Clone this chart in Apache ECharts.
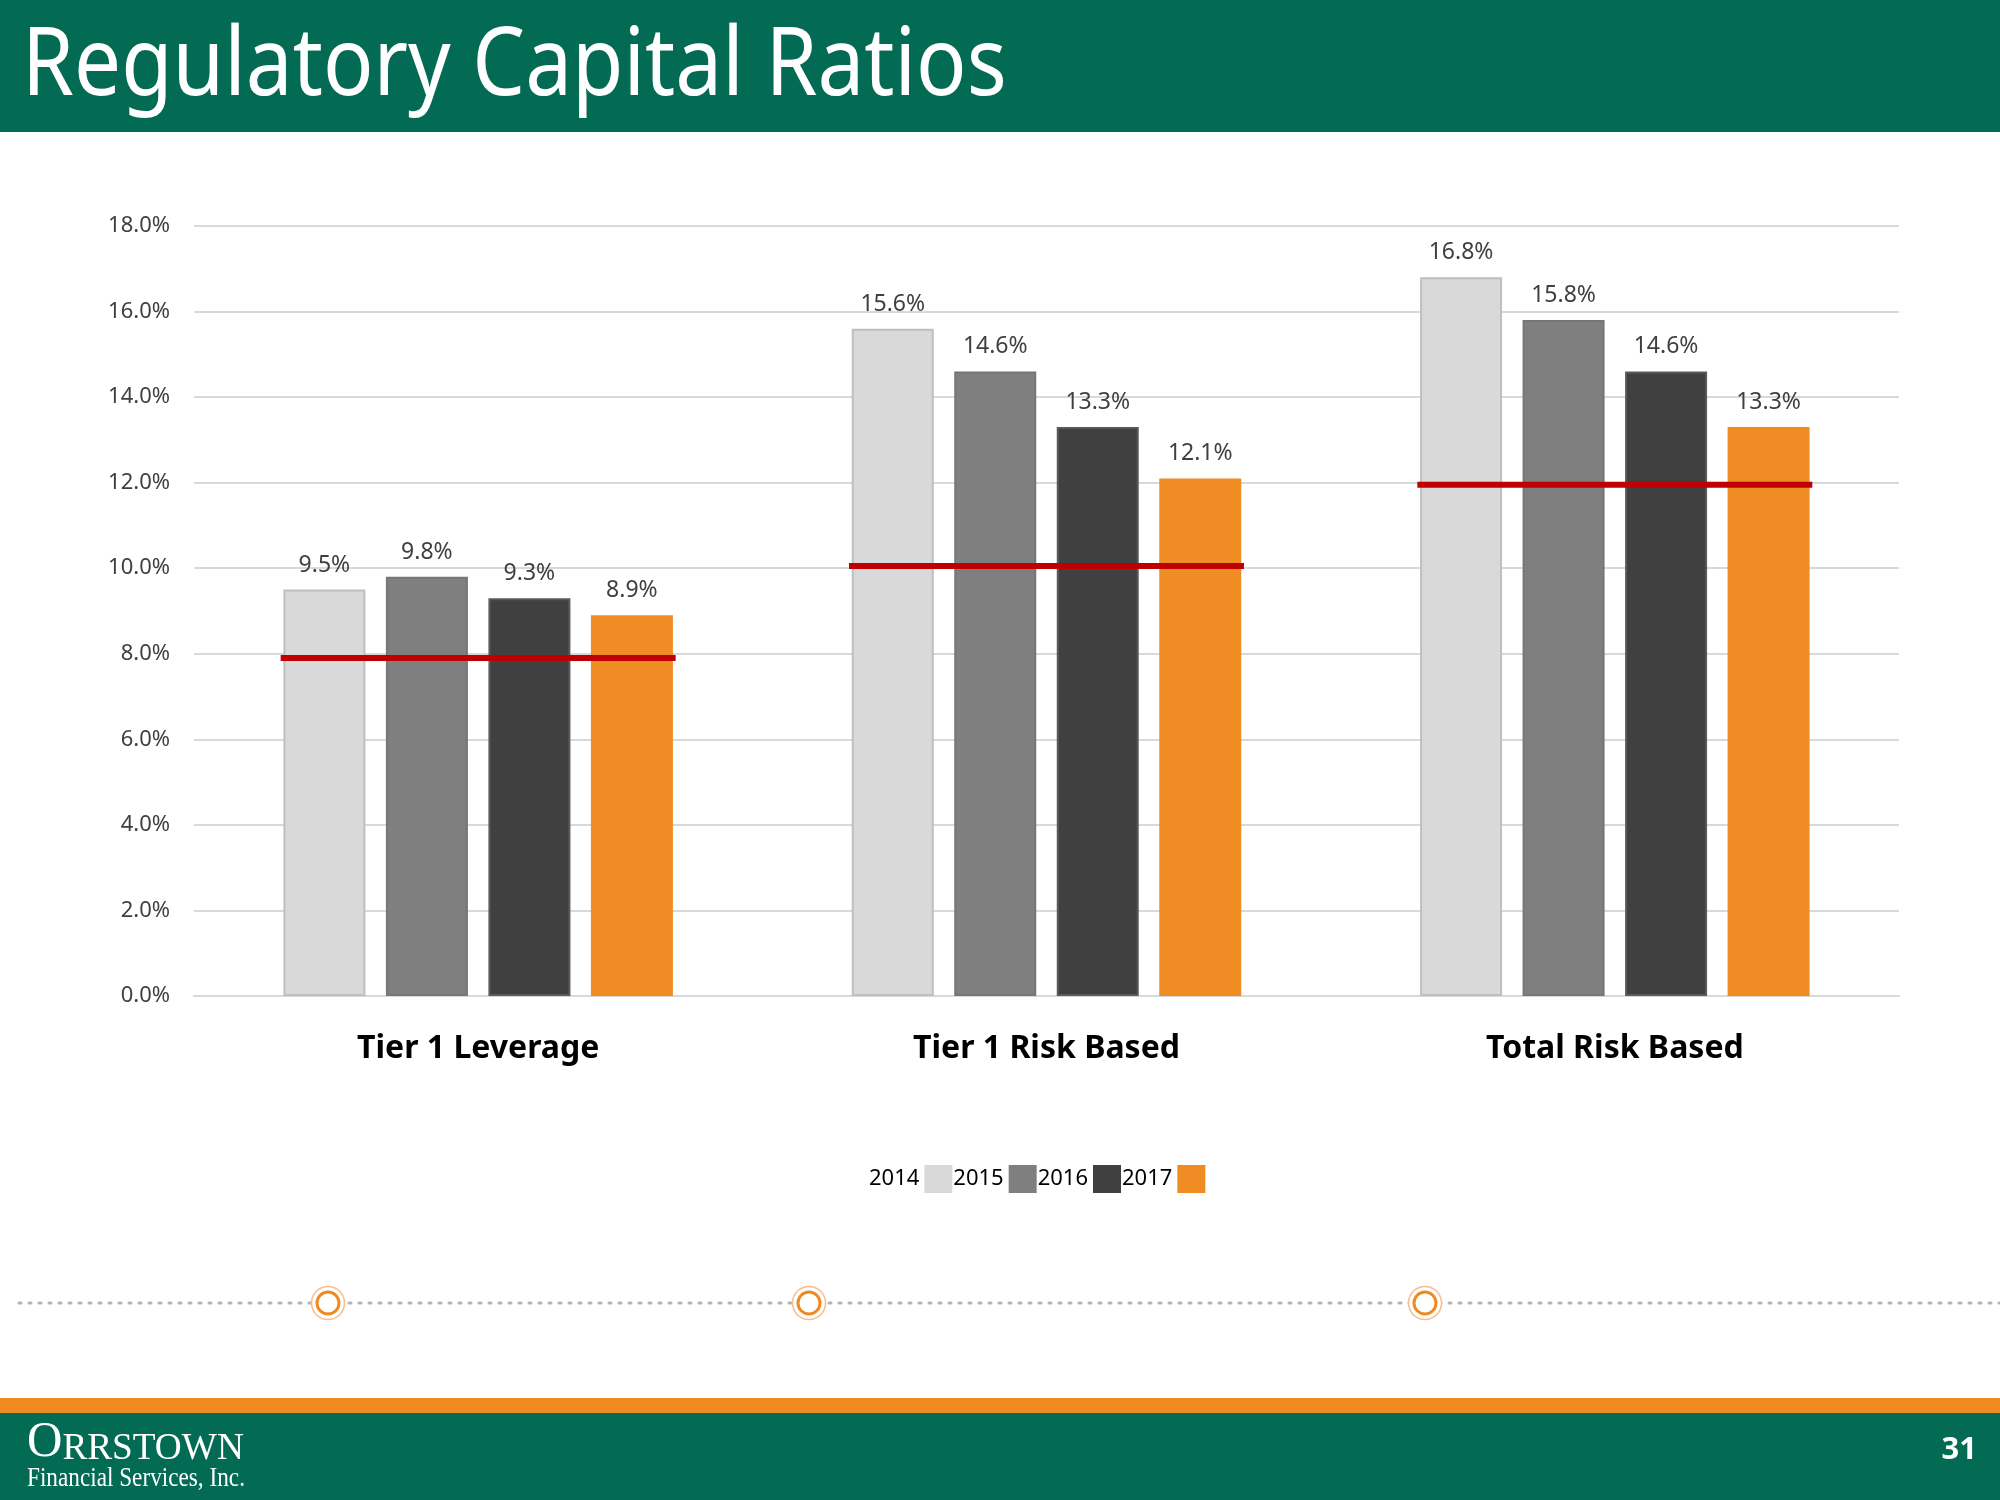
<!DOCTYPE html>
<html>
<head>
<meta charset="utf-8">
<script src="https://cdn.jsdelivr.net/npm/echarts@6/dist/echarts.min.js"></script>
<style>
  html, body { margin: 0; padding: 0; background: #ffffff; }
  #chart { width: 2000px; height: 1500px; }
</style>
</head>
<body>
<div id="chart"></div>
<script>
// ---- data ----
const categories = ['Tier 1 Leverage', 'Tier 1 Risk Based', 'Total Risk Based'];
const years = ['2014', '2015', '2016', '2017'];
const values2014 = [9.5, 15.6, 16.8];
const values2015 = [9.8, 14.6, 15.8];
const values2016 = [9.3, 13.3, 14.6];
const values2017 = [8.9, 12.1, 13.3];
const thresholdValues = [7.9, 10.05, 11.95];
const yTicks = { min: 0, max: 18, step: 2 };
const titleText = 'Regulatory Capital Ratios';
const pageNumber = '31';

// ---- styles ----
const FONT = "'Noto Sans', 'Open Sans', sans-serif";
const SERIF = "'Liberation Serif', 'DejaVu Serif', serif";
const GREEN = '#036B54';
const ORANGE = '#EF8A22';
const barColors = ['#D9D9D9', '#7F7F7F', '#404040', '#F08C24'];
const barBorders = ['#BFBFBF', '#767676', '#5A5A5A', '#F08C24'];
const seriesValues = [values2014, values2015, values2016, values2017];
const LINE_SPAN = 0.695; // fraction of category band covered by red line

const chart = echarts.init(document.getElementById('chart'), null, { renderer: 'canvas' });

const barSeries = years.map((y, i) => ({
  name: y,
  type: 'bar',
  data: seriesValues[i],
  barWidth: 82,
  barGap: '25%',
  itemStyle: { color: barColors[i], borderColor: barBorders[i], borderWidth: i === 3 ? 0 : 2 },
  label: {
    show: true,
    position: 'top',
    distance: 13,
    fontFamily: FONT,
    fontSize: 23,
    color: '#404040',
    formatter: p => p.value.toFixed(1) + '%'
  },
  z: 2
}));

const lineSeries = {
  name: 'threshold',
  type: 'custom',
  data: thresholdValues.map((v, i) => [i, v]),
  encode: { x: 0, y: 1 },
  z: 5,
  renderItem: function (params, api) {
    const c = api.coord([api.value(0), api.value(1)]);
    const band = api.size([1, 0])[0];
    const half = band * LINE_SPAN / 2;
    return {
      type: 'line',
      shape: { x1: c[0] - half, y1: c[1], x2: c[0] + half, y2: c[1] },
      style: { stroke: '#C00000', lineWidth: 6 }
    };
  }
};

const ringXs = [328, 809, 1425];
const ringEls = [];
ringXs.forEach(x => {
  ringEls.push({ type: 'circle', shape: { cx: x, cy: 1303, r: 16.5 }, style: { fill: '#ffffff', stroke: '#F6BE90', lineWidth: 1.5 }, z: 10 });
  ringEls.push({ type: 'circle', shape: { cx: x, cy: 1303, r: 11 }, style: { fill: '#ffffff', stroke: ORANGE, lineWidth: 3 }, z: 11 });
});

const option = {
  backgroundColor: '#ffffff',
  animation: false,
  grid: { left: 194, right: 101, top: 226, bottom: 504, containLabel: false },
  legend: {
    data: years,
    left: 864,
    top: 1160,
    align: 'right',
    icon: 'rect',
    itemWidth: 28,
    itemHeight: 28,
    itemGap: 1,
    itemStyle: { borderWidth: 0 },
    textStyle: { fontFamily: FONT, fontSize: 22, color: '#000000' }
  },
  xAxis: {
    type: 'category',
    data: categories,
    axisLine: { show: true, lineStyle: { color: '#D9D9D9', width: 2 } },
    axisTick: { show: false },
    axisLabel: { fontFamily: FONT, fontSize: 32, fontWeight: 'bold', color: '#000000', margin: 37 }
  },
  yAxis: {
    type: 'value',
    min: yTicks.min,
    max: yTicks.max,
    interval: yTicks.step,
    axisLine: { show: false },
    axisTick: { show: false },
    axisLabel: { fontFamily: FONT, fontSize: 22, color: '#404040', margin: 24, formatter: v => v.toFixed(1) + '%' },
    splitLine: { lineStyle: { color: '#D9D9D9', width: 2 } }
  },
  series: barSeries.concat([lineSeries]),
  graphic: [
    { type: 'rect', shape: { x: 0, y: 0, width: 2000, height: 132 }, style: { fill: GREEN }, z: 1 },
    { type: 'text', x: 22, y: 68, scaleX: 0.88,
      style: { text: titleText, fill: '#ffffff', font: "normal 95px 'Noto Sans', 'Open Sans', sans-serif", verticalAlign: 'middle', align: 'left' }, z: 2 },
    { type: 'line', shape: { x1: 19, y1: 1303, x2: 2000, y2: 1303 }, style: { stroke: '#B3B3B3', lineWidth: 3, lineDash: [2, 8], lineCap: 'round' }, z: 5 }
  ].concat(ringEls).concat([
    { type: 'rect', shape: { x: 0, y: 1398, width: 2000, height: 15 }, style: { fill: ORANGE }, z: 1 },
    { type: 'rect', shape: { x: 0, y: 1413, width: 2000, height: 87 }, style: { fill: GREEN }, z: 1 },
    { type: 'text', x: 27, y: 1468, scaleX: 0.98,
      style: {
        text: '{big|O}{small|RRSTOWN}',
        verticalAlign: 'bottom', align: 'left',
        rich: {
          big: { fontFamily: SERIF, fontSize: 50, fill: '#ffffff', verticalAlign: 'bottom' },
          small: { fontFamily: SERIF, fontSize: 38, fill: '#ffffff', verticalAlign: 'bottom' }
        }
      }, z: 2 },
    { type: 'text', x: 27, y: 1479, scaleX: 0.86,
      style: { text: 'Financial Services, Inc.', fill: '#ffffff', font: "normal 27px 'Liberation Serif', 'DejaVu Serif', serif", verticalAlign: 'middle', align: 'left' }, z: 2 },
    { type: 'text', x: 1977, y: 1450,
      style: { text: pageNumber, fill: '#ffffff', font: "bold 31px 'Noto Sans', sans-serif", verticalAlign: 'middle', align: 'right' }, z: 2 }
  ])
};

chart.setOption(option);
</script>
</body>
</html>
